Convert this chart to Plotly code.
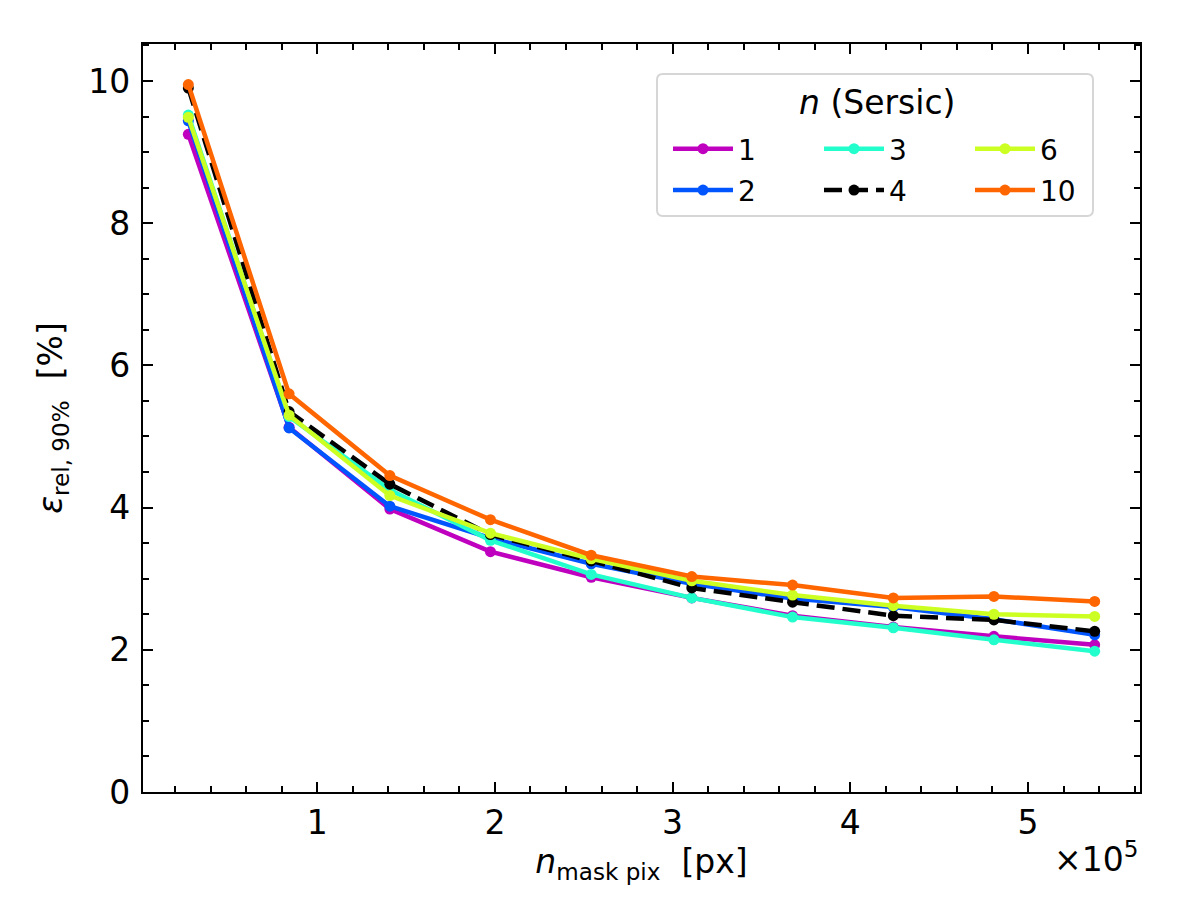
import plotly.graph_objects as go

# mask pixel counts and 90% relative error per Sersic index
n_mask_pix = [27500, 84200, 140900, 197500, 254200, 310800, 367500, 424200, 480800, 537500]

err_n1 = [9.25, 5.13, 3.98, 3.38, 3.02, 2.73, 2.48, 2.32, 2.19, 2.07]
err_n2 = [9.44, 5.12, 4.02, 3.57, 3.21, 2.93, 2.72, 2.60, 2.43, 2.21]
err_n3 = [9.52, 5.28, 4.25, 3.54, 3.06, 2.73, 2.46, 2.31, 2.14, 1.98]
err_n4 = [9.90, 5.35, 4.33, 3.62, 3.25, 2.87, 2.67, 2.48, 2.42, 2.26]
err_n6 = [9.49, 5.30, 4.17, 3.64, 3.28, 2.97, 2.77, 2.62, 2.50, 2.47]
err_n10 = [9.95, 5.60, 4.45, 3.83, 3.33, 3.03, 2.91, 2.73, 2.75, 2.68]

sersic_labels = ["1", "2", "3", "4", "6", "10"]
x_ticks = [100000, 200000, 300000, 400000, 500000]
x_ticktext = ["1", "2", "3", "4", "5"]

series = [err_n1, err_n2, err_n3, err_n4, err_n6, err_n10]
colors = ["#bf00bf", "#0055ff", "#22ffcc", "black", "#ccff22", "#ff6600"]
legends = ["legend", "legend", "legend2", "legend2", "legend3", "legend3"]

FONT = "DejaVu Sans"

fig = go.Figure()
for lab, vals, col, lg in zip(sersic_labels, series, colors, legends):
    fig.add_trace(go.Scatter(
        x=n_mask_pix, y=vals, name=lab, mode="lines+markers",
        line=dict(color=col, width=4.5, dash="18px,8px" if lab == "4" else "solid"),
        marker=dict(color=col, size=11),
        legend=lg, legendgroup=lab,
    ))

# page is shifted ~8px by the body margin; plot area in page pixels: x 143..1140, y 44..792.5
OFF = 8
def px_x(p):
    return (p - 143) / 997.0

def px_y(p):
    return (792.5 - p) / 748.5

# rounded legend frame (paper coords)
bx0, bx1, by0, by1 = px_x(657), px_x(1093), px_y(216), px_y(74)
rx, ry = 6 / 997.0, 6 / 748.5
frame = (f"M{bx0+rx},{by0} L{bx1-rx},{by0} Q{bx1},{by0} {bx1},{by0+ry} "
         f"L{bx1},{by1-ry} Q{bx1},{by1} {bx1-rx},{by1} L{bx0+rx},{by1} "
         f"Q{bx0},{by1} {bx0},{by1-ry} L{bx0},{by0+ry} Q{bx0},{by0} {bx0+rx},{by0} Z")

leg_common = dict(bgcolor="rgba(0,0,0,0)", borderwidth=0, font=dict(family=FONT, size=28, color="black"),
                  xanchor="left", yanchor="top", traceorder="grouped", tracegroupgap=2, itemwidth=60)

fig.update_layout(
    width=1200, height=900,
    margin=dict(l=143 - OFF, r=1200 - (143 - OFF) - 997, t=44 - OFF, b=900 - (44 - OFF) - 748.5),
    paper_bgcolor="white", plot_bgcolor="white",
    font=dict(family=FONT, size=33, color="black"),
    showlegend=True,
    legend=dict(x=px_x(668), y=px_y(124), **leg_common),
    legend2=dict(x=px_x(819), y=px_y(124), **leg_common),
    legend3=dict(x=px_x(970), y=px_y(124), **leg_common),
    xaxis=dict(
        range=[2000, 563000], tickvals=x_ticks, ticktext=x_ticktext,
        ticks="inside", ticklen=10, tickwidth=2.2, tickcolor="black",
        showline=True, linecolor="black", linewidth=2.2, mirror="ticks",
        showgrid=False, zeroline=False, ticklabelstandoff=0,
        minor=dict(tick0=0, dtick=20000, ticks="inside", ticklen=5.5, tickwidth=1.6, tickcolor="black", showgrid=False),
        title=dict(text="<i>n</i><sub>mask pix</sub>  [px]", font=dict(size=33), standoff=2),
    ),
    yaxis=dict(
        range=[0, 10.52], tick0=0, dtick=2,
        ticks="inside", ticklen=10, tickwidth=2.2, tickcolor="black",
        showline=True, linecolor="black", linewidth=2.2, mirror="ticks",
        showgrid=False, zeroline=False, ticklabelstandoff=4,
        minor=dict(tick0=0, dtick=0.5, ticks="inside", ticklen=5.5, tickwidth=1.6, tickcolor="black", showgrid=False),
        title=dict(text="<i>ε</i><sub>rel, 90%</sub>  [%]", font=dict(size=33), standoff=16),
    ),
    shapes=[dict(type="path", xref="paper", yref="paper", path=frame,
                 line=dict(color="#d6d6d6", width=2), fillcolor="white", layer="below")],
    annotations=[
        dict(text="<i>n</i> (Sersic)", xref="paper", yref="paper", x=px_x(877), y=px_y(103),
             xanchor="center", yanchor="middle", showarrow=False, font=dict(family=FONT, size=33)),
        dict(text="×10<sup>5</sup>", xref="paper", yref="paper", x=1.0, y=px_y(858),
             xanchor="right", yanchor="middle", showarrow=False, font=dict(family=FONT, size=33)),
    ],
)

fig.write_html("out.html")
